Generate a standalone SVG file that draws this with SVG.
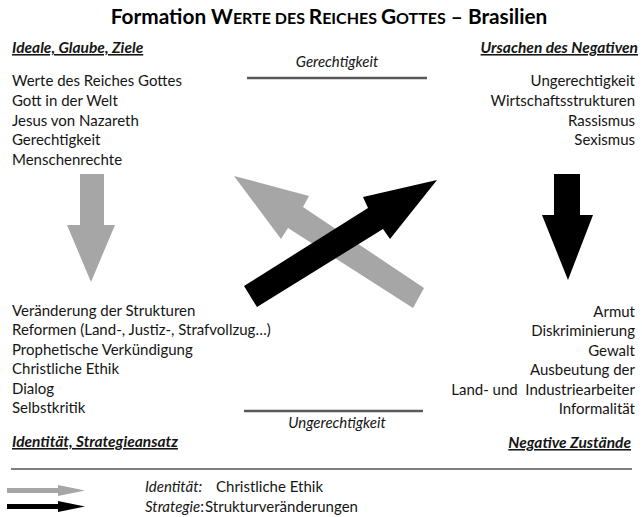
<svg xmlns="http://www.w3.org/2000/svg" width="642" height="517" viewBox="0 0 642 517">
<style>
text{font-family:Lato,"Liberation Sans",sans-serif;font-size:15px;fill:#151515;white-space:pre}
.h{font-weight:bold;font-style:italic;text-decoration:underline;font-size:15.5px}
.r{text-anchor:end}
.i{font-style:italic}
.t{font-weight:bold;font-size:20.8px;fill:#000}
</style>
<rect width="642" height="517" fill="#fff"/>
<g id="title"><text class="t" x="329" y="24" text-anchor="middle">Formation W<tspan font-size="16">ERTE DES </tspan>R<tspan font-size="16">EICHES </tspan>G<tspan font-size="16">OTTES</tspan> – Brasilien</text></g>
<g id="ideale">
<text class="h" x="12" y="53">Ideale, Glaube, Ziele</text>
<text x="12" y="86">Werte des Reiches Gottes</text>
<text x="12" y="106">Gott in der Welt</text>
<text x="12" y="126">Jesus von Nazareth</text>
<text x="12" y="145">Gerechtigkeit</text>
<text x="12" y="165">Menschenrechte</text>
</g>
<g id="ursachen">
<text class="h r" x="638" y="53">Ursachen des Negativen</text>
<text class="r" x="635" y="86">Ungerechtigkeit</text>
<text class="r" x="635" y="106">Wirtschaftsstrukturen</text>
<text class="r" x="635" y="126">Rassismus</text>
<text class="r" x="635" y="145">Sexismus</text>
</g>
<g id="identitaet">
<text x="12" y="316">Veränderung der Strukturen</text>
<text x="12" y="335">Reformen (Land-, Justiz-, Strafvollzug…)</text>
<text x="12" y="355">Prophetische Verkündigung</text>
<text x="12" y="374">Christliche Ethik</text>
<text x="12" y="394">Dialog</text>
<text x="12" y="413">Selbstkritik</text>
<text class="h" x="12" y="447">Identität, Strategieansatz</text>
</g>
<g id="zustaende">
<text class="r" x="635" y="317">Armut</text>
<text class="r" x="635" y="336">Diskriminierung</text>
<text class="r" x="635" y="356">Gewalt</text>
<text class="r" x="635" y="375">Ausbeutung der</text>
<text class="r" x="635" y="395">Land- und  Industriearbeiter</text>
<text class="r" x="635" y="414">Informalität</text>
<text class="h r" x="631" y="448">Negative Zustände</text>
</g>
<g id="gerechtigkeit">
<text class="i" x="337" y="67" text-anchor="middle">Gerechtigkeit</text>
<line x1="247" y1="78" x2="427" y2="78" stroke="#595959" stroke-width="2.5"/>
</g>
<g id="ungerechtigkeit">
<line x1="244" y1="411" x2="423" y2="411" stroke="#595959" stroke-width="2.5"/>
<text class="i" x="337" y="428" text-anchor="middle">Ungerechtigkeit</text>
</g>
<g id="connectors">
<polygon fill="#a6a6a6" points="80,174 104,174 104,225 115,225 91,282 67,225 80,225"/>
<polygon fill="#000" points="554,174 580,174 580,215 593,215 568,280 542,215 554,215"/>
<polygon fill="#a6a6a6" points="424,288 413,308 288,228 281,239 234,176 309,196 303,207"/>
<polygon fill="#000" points="244,286 257,307 383,229 390,239 437,180 363,197 368,208"/>
</g>
<g id="legend">
<line x1="11" y1="469" x2="632" y2="469" stroke="#000" stroke-width="1"/>
<polygon fill="#a6a6a6" points="7,488 58,488 58,485 85,490.5 58,496 58,493 7,493"/>
<polygon fill="#000" points="7,504 58,504 58,501 85,506.5 58,512 58,509 7,509"/>
<text x="145" y="492"><tspan class="i">Identität:</tspan><tspan x="216">Christliche Ethik</tspan></text>
<text x="145" y="512"><tspan class="i">Strategie</tspan>:<tspan x="205">Strukturveränderungen</tspan></text>
</g>
</svg>
